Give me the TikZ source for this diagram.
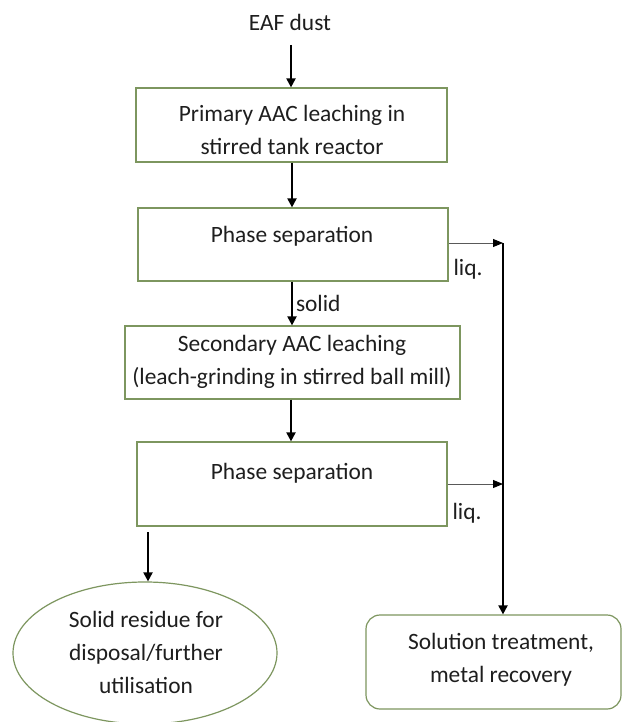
\documentclass[tikz,border=0pt]{standalone}
\usepackage{fontspec}
\setmainfont{Carlito}
\usetikzlibrary{arrows.meta,shapes.geometric}
\definecolor{boxgreen}{RGB}{125,150,95}
\definecolor{txt}{RGB}{30,30,30}
\begin{document}
\begin{tikzpicture}[x=1pt,y=-1pt,
  every node/.style={font=\fontsize{23.4}{33}\selectfont, text=txt},
  procbox/.style={draw=boxgreen, line width=1.2pt, rectangle, inner sep=0pt},
  txtnode/.style={align=center, inner sep=0pt},
  mainarrow/.style={-{Triangle[length=9pt,width=9pt]}, line width=2pt, black},
  liqarrow/.style={-{Triangle[length=10pt,width=8pt,color=black]}, line width=1pt, black!65},
  ]
\useasboundingbox (0,0) rectangle (624,722);
\fill[white] (0,0) rectangle (624,722);

% input
\node[txtnode] (eaf) at (290,22) {EAF dust};

% box 1
\node[procbox, minimum width=311pt, minimum height=74pt] (b1) at (291.5,125) {};
\node[txtnode] (b1t) at (292,130) {Primary AAC leaching in\\stirred tank reactor};

% box 2
\node[procbox, minimum width=310pt, minimum height=73pt] (b2) at (293,244.5) {};
\node[txtnode] (b2t) at (292,236) {Phase separation};

% box 3
\node[procbox, minimum width=335pt, minimum height=73pt] (b3) at (292.5,362.5) {};
\node[txtnode] (b3t) at (292,362) {Secondary AAC leaching\\(leach-grinding in stirred ball mill)};

% box 4
\node[procbox, minimum width=310pt, minimum height=84pt] (b4) at (292,484) {};
\node[txtnode] (b4t) at (292,473) {Phase separation};

% ellipse
\node[draw=boxgreen, line width=1.2pt, ellipse, minimum width=264pt, minimum height=142pt, inner sep=0pt] (res) at (145,653) {};
\node[txtnode] (rest) at (146,652) {Solid residue for\\disposal/further\\utilisation};

% solution box
\node[draw=boxgreen, line width=1.2pt, rounded corners=14pt, minimum width=255pt, minimum height=94pt, inner sep=0pt] (sol) at (493.5,662) {};
\node[txtnode] (solt) at (501,660) {Solution treatment,\\metal recovery};

% collector line
\coordinate (c1) at (503,243);
\coordinate (c2) at (503,484);
\coordinate (r4) at (148,532);

% arrows
\draw[mainarrow] (291,45) -- (b1.north -| 291,0);
\draw[mainarrow] (b1.south -| 292,0) -- (b2.north -| 292,0);
\draw[mainarrow] (b2.south -| 292,0) -- node[right, inner sep=3pt, font=\fontsize{23.4}{28}\selectfont] (solid) {solid} (b3.north -| 292,0);
\draw[mainarrow] (b3.south -| 291,0) -- (b4.north -| 291,0);
\draw[mainarrow] (r4) -- (res.north -| r4);

\draw[liqarrow] (b2.east |- c1) -- (c1);
\draw[liqarrow] (b4.east |- c2) -- (c2);
\draw[mainarrow] (c1) -- (sol.north -| c1);

\node[txtnode] (liq1) at (468,269) {liq.};
\node[txtnode] (liq2) at (467,513) {liq.};
\end{tikzpicture}
\end{document}
